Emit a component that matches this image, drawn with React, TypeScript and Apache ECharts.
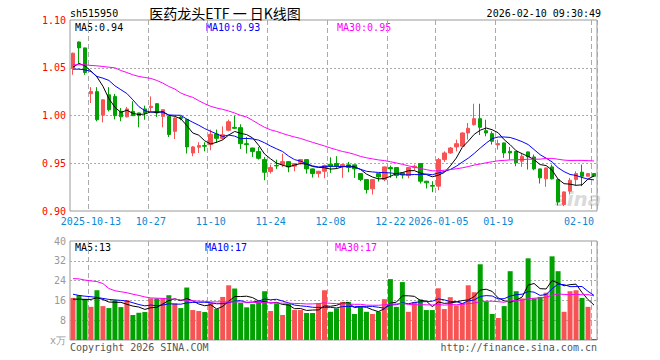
import { useEffect, useRef } from 'react';
import * as echarts from 'echarts';

const MONO = '"DejaVu Sans Mono", monospace';
const UP = '#f65454';
const DOWN = '#00a100';

const dates = [
  '2025-09-30', '2025-10-09', '2025-10-10',
  '2025-10-13', '2025-10-14', '2025-10-15', '2025-10-16', '2025-10-17',
  '2025-10-20', '2025-10-21', '2025-10-22', '2025-10-23', '2025-10-24',
  '2025-10-27', '2025-10-28', '2025-10-29', '2025-10-30', '2025-10-31',
  '2025-11-03', '2025-11-04', '2025-11-05', '2025-11-06', '2025-11-07',
  '2025-11-10', '2025-11-11', '2025-11-12', '2025-11-13', '2025-11-14',
  '2025-11-17', '2025-11-18', '2025-11-19', '2025-11-20', '2025-11-21',
  '2025-11-24', '2025-11-25', '2025-11-26', '2025-11-27', '2025-11-28',
  '2025-12-01', '2025-12-02', '2025-12-03', '2025-12-04', '2025-12-05',
  '2025-12-08', '2025-12-09', '2025-12-10', '2025-12-11', '2025-12-12',
  '2025-12-15', '2025-12-16', '2025-12-17', '2025-12-18', '2025-12-19',
  '2025-12-22', '2025-12-23', '2025-12-24', '2025-12-25', '2025-12-26',
  '2025-12-29', '2025-12-30', '2025-12-31',
  '2026-01-05', '2026-01-06', '2026-01-07', '2026-01-08', '2026-01-09',
  '2026-01-12', '2026-01-13', '2026-01-14', '2026-01-15', '2026-01-16',
  '2026-01-19', '2026-01-20', '2026-01-21', '2026-01-22', '2026-01-23',
  '2026-01-26', '2026-01-27', '2026-01-28', '2026-01-29', '2026-01-30',
  '2026-02-02', '2026-02-03', '2026-02-04', '2026-02-05', '2026-02-06',
  '2026-02-09', '2026-02-10',
];

const tickDates = ['2025-10-13', '2025-10-27', '2025-11-10', '2025-11-24', '2025-12-08', '2025-12-22', '2026-01-05', '2026-01-19', '2026-02-10'];
const tickTexts = ['2025-10-13', '10-27', '11-10', '11-24', '12-08', '12-22', '2026-01-05', '01-19', '02-10'];

const open = [
  1.0495, 1.0770, 1.0708, 1.0228, 1.0250, 1.0003, 1.0217, 1.0200, 1.0044, 0.9986,
  1.0044, 1.0027, 1.0069, 1.0082, 1.0124, 0.9991, 0.9991, 0.9834, 0.9984, 0.9960,
  0.9608, 0.9668, 0.9685, 0.9695, 0.9806, 0.9761, 0.9845, 0.9876, 0.9873, 0.9705,
  0.9660, 0.9622, 0.9538, 0.9413, 0.9476, 0.9486, 0.9517, 0.9469, 0.9510, 0.9538,
  0.9441, 0.9392, 0.9416, 0.9490, 0.9497, 0.9469, 0.9483, 0.9483, 0.9392, 0.9329,
  0.9232, 0.9392, 0.9329, 0.9455, 0.9455, 0.9399, 0.9371, 0.9455, 0.9497, 0.9312,
  0.9267, 0.9260, 0.9538, 0.9608, 0.9671, 0.9679, 0.9817, 0.9904, 0.9967, 0.9841,
  0.9810, 0.9692, 0.9713, 0.9625, 0.9625, 0.9521, 0.9619, 0.9566, 0.9441, 0.9337,
  0.9462, 0.9329, 0.9068, 0.9208, 0.9329, 0.9406, 0.9364, 0.9392,
];
const close = [
  1.0652, 1.0708, 1.0450, 1.0252, 0.9956, 1.0164, 1.0060, 0.9998, 0.9986, 1.0069,
  0.9998, 0.9998, 1.0027, 1.0096, 1.0027, 1.0061, 0.9800, 0.9973, 0.9970, 0.9671,
  0.9671, 0.9685, 0.9678, 0.9803, 0.9761, 0.9799, 0.9935, 0.9866, 0.9705, 0.9695,
  0.9622, 0.9552, 0.9406, 0.9455, 0.9472, 0.9517, 0.9462, 0.9497, 0.9538, 0.9441,
  0.9392, 0.9416, 0.9476, 0.9469, 0.9469, 0.9486, 0.9455, 0.9441, 0.9329, 0.9225,
  0.9329, 0.9357, 0.9462, 0.9441, 0.9371, 0.9378, 0.9455, 0.9469, 0.9312, 0.9295,
  0.9260, 0.9538, 0.9608, 0.9660, 0.9705, 0.9817, 0.9866, 0.9967, 0.9876, 0.9817,
  0.9730, 0.9706, 0.9608, 0.9608, 0.9504, 0.9573, 0.9566, 0.9441, 0.9347, 0.9451,
  0.9337, 0.9093, 0.9200, 0.9322, 0.9392, 0.9364, 0.9392, 0.9364,
];
const high = [
  1.0659, 1.0775, 1.0710, 1.0297, 1.0297, 1.0170, 1.0297, 1.0226, 1.0078, 1.0090,
  1.0149, 1.0030, 1.0103, 1.0200, 1.0124, 1.0068, 0.9994, 0.9980, 0.9994, 0.9965,
  0.9680, 0.9720, 0.9720, 0.9853, 0.9853, 0.9886, 0.9956, 0.9998, 0.9908, 0.9775,
  0.9662, 0.9671, 0.9566, 0.9486, 0.9538, 0.9601, 0.9520, 0.9500, 0.9545, 0.9540,
  0.9445, 0.9420, 0.9486, 0.9563, 0.9574, 0.9490, 0.9514, 0.9486, 0.9395, 0.9332,
  0.9332, 0.9395, 0.9465, 0.9476, 0.9458, 0.9402, 0.9458, 0.9486, 0.9500, 0.9315,
  0.9312, 0.9556, 0.9625, 0.9671, 0.9747, 0.9824, 0.9922, 1.0123, 1.0123, 0.9956,
  0.9834, 0.9747, 0.9716, 0.9671, 0.9628, 0.9608, 0.9622, 0.9591, 0.9444, 0.9454,
  0.9486, 0.9332, 0.9203, 0.9347, 0.9416, 0.9486, 0.9395, 0.9395,
];
const low = [
  1.0426, 1.0548, 1.0426, 1.0130, 0.9939, 0.9928, 1.0043, 0.9959, 0.9940, 0.9980,
  0.9994, 0.9876, 0.9956, 1.0044, 0.9985, 0.9876, 0.9775, 0.9754, 0.9950, 0.9602,
  0.9573, 0.9608, 0.9625, 0.9636, 0.9712, 0.9747, 0.9834, 0.9860, 0.9650, 0.9602,
  0.9566, 0.9538, 0.9322, 0.9392, 0.9441, 0.9462, 0.9406, 0.9416, 0.9486, 0.9392,
  0.9350, 0.9350, 0.9343, 0.9399, 0.9441, 0.9347, 0.9406, 0.9347, 0.9312, 0.9183,
  0.9173, 0.9308, 0.9312, 0.9347, 0.9343, 0.9340, 0.9343, 0.9427, 0.9288, 0.9236,
  0.9197, 0.9218, 0.9514, 0.9600, 0.9625, 0.9679, 0.9747, 0.9894, 0.9796, 0.9782,
  0.9696, 0.9643, 0.9556, 0.9538, 0.9469, 0.9462, 0.9434, 0.9427, 0.9288, 0.9253,
  0.9330, 0.9058, 0.9051, 0.9173, 0.9267, 0.9260, 0.9360, 0.9360,
];
const volume = [
  17.0, 18.1, 16.6, 13.4, 20.1, 13.7, 12.9, 16.1, 13.3, 16.1,
  10.1, 11.0, 11.3, 16.8, 16.8, 16.8, 18.1, 14.8, 12.9, 21.2,
  12.1, 11.7, 11.3, 15.0, 12.5, 17.4, 22.1, 20.8, 15.0, 13.2,
  14.5, 15.4, 19.7, 11.7, 14.8, 10.1, 14.5, 12.1, 12.1, 10.9,
  10.9, 14.8, 20.1, 11.4, 12.8, 15.4, 15.4, 10.5, 13.4, 11.4,
  10.5, 11.4, 16.5, 24.6, 13.4, 23.4, 11.4, 15.4, 16.4, 12.1,
  12.1, 20.9, 12.5, 17.3, 14.0, 15.0, 22.1, 19.3, 30.6, 15.6,
  10.5, 8.9, 13.7, 27.8, 19.7, 16.8, 33.0, 16.8, 17.4, 19.1,
  33.8, 27.8, 11.4, 19.7, 20.1, 17.0, 13.4, 0.4,
];

const ma5Lead = [1.0506, 1.0545, 1.0520, 1.0465];
const ma10Lead = [1.0485, 1.0485, 1.0478, 1.0461, 1.0409, 1.0391, 1.0367, 1.0311, 1.0270];
const ma30Lead = [
  1.0531, 1.0531, 1.0531, 1.0524, 1.0520, 1.0513, 1.0506, 1.0499, 1.0471, 1.0450,
  1.0426, 1.0409, 1.0398, 1.0388, 1.0367, 1.0339, 1.0304, 1.0277, 1.0235, 1.0210,
  1.0190, 1.0155, 1.0123, 1.0096, 1.0078, 1.0064, 1.0047, 1.0026, 1.0001,
];
const vma5Lead = [16.5, 16.5, 16.4, 16.4];
const vma10Lead = [18.5, 18.0, 17.7, 17.5, 17.2, 16.8, 16.4, 16.2, 16.0];
const vma30Lead = [
  24.8, 24.7, 24.2, 23.9, 23.6, 22.8, 20.8, 19.9, 19.5, 19.1,
  18.5, 18.0, 17.4, 17.0, 16.9, 16.8, 16.6, 16.5, 16.2, 16.0,
  15.8, 15.7, 15.6, 15.4, 15.4, 15.4, 15.4, 15.4, 15.4,
];

const priceLegend = ['MA5:0.94', 'MA10:0.93', 'MA30:0.95'];
const volLegend = ['MA5:13', 'MA10:17', 'MA30:17'];

function movingAverage(values: number[], n: number, lead: number[]) {
  return values.map((_, i) => {
    if (i < n - 1) return lead[i];
    let s = 0;
    for (let k = i - n + 1; k <= i; k++) s += values[k];
    return +(s / n).toFixed(4);
  });
}

export default function App() {
  const ref = useRef<HTMLDivElement>(null);
  useEffect(() => {
    const chart = echarts.init(ref.current!, undefined, { renderer: 'svg' });
    const tickIdx = new Set(tickDates.map((d) => dates.indexOf(d)));
    const labelMap: Record<string, string> = {};
    tickDates.forEach((d, k) => (labelMap[d] = tickTexts[k]));
    const up = (i: number) => close[i] >= open[i];

    const kData = dates.map((_, i) => [open[i], close[i], low[i], high[i]]);
    const volData = volume.map((v, i) => ({ value: v, itemStyle: { color: up(i) ? UP : DOWN } }));

    const vSplit = { show: true, interval: (i: number) => tickIdx.has(i), lineStyle: { color: '#aaa', type: [5, 3], width: 1 } };
    const hSplit = { show: true, showMinLine: false, showMaxLine: false, lineStyle: { color: '#aaa', type: [2, 2], width: 1 } };

    const txt = (x: number, y: number, text: string, fill: string, font: string, align = 'left', extra: any = {}) => ({
      type: 'text', x, y, silent: true, style: { text, fill, font, align, verticalAlign: 'middle', ...extra },
    });
    const f10 = `10px ${MONO}`;
    const line = (name: string, data: number[], color: string, xi: number) => ({
      type: 'line', name, data, xAxisIndex: xi, yAxisIndex: xi, showSymbol: false, symbol: 'none',
      lineStyle: { color, width: 1 }, z: 5, silent: true,
    });

    chart.setOption({
      animation: false,
      backgroundColor: '#fff',
      grid: [
        { left: 70, right: 63, top: 20, height: 191, show: true, borderColor: '#999', borderWidth: 1 },
        { left: 70, right: 63, top: 241, height: 99, show: true, borderColor: '#999', borderWidth: 1 },
      ],
      xAxis: [
        {
          type: 'category', gridIndex: 0, data: dates, boundaryGap: true,
          axisLine: { show: false }, axisTick: { show: false },
          axisLabel: {
            interval: (i: number) => tickIdx.has(i), formatter: (v: string) => labelMap[v] || '',
            color: '#0a88d6', fontFamily: MONO, fontSize: 10, margin: 5, alignMaxLabel: 'right',
          },
          splitLine: vSplit,
        },
        {
          type: 'category', gridIndex: 1, data: dates, boundaryGap: true,
          axisLine: { show: false }, axisTick: { show: false }, axisLabel: { show: false },
          splitLine: vSplit,
        },
      ],
      yAxis: [
        {
          type: 'value', gridIndex: 0, min: 0.9, max: 1.1, interval: 0.05,
          axisLine: { show: false }, axisTick: { show: false },
          axisLabel: { color: '#f00', fontFamily: MONO, fontSize: 10, margin: 4, formatter: (v: number) => v.toFixed(2) },
          splitLine: hSplit,
        },
        {
          type: 'value', gridIndex: 1, min: 0, max: 40, interval: 8,
          axisLine: { show: false }, axisTick: { show: false },
          axisLabel: { color: '#999', fontFamily: MONO, fontSize: 10, margin: 4, formatter: (v: number) => (v === 0 ? 'x万' : String(v)) },
          splitLine: hSplit,
        },
      ],
      series: [
        {
          type: 'candlestick', xAxisIndex: 0, yAxisIndex: 0, data: kData, barWidth: 4,
          itemStyle: { color: UP, color0: DOWN, borderColor: UP, borderColor0: DOWN, borderWidth: 1 },
          silent: true,
        },
        line('MA5', movingAverage(close, 5, ma5Lead), '#000', 0),
        line('MA10', movingAverage(close, 10, ma10Lead), '#0000ff', 0),
        line('MA30', movingAverage(close, 30, ma30Lead), '#ff00ff', 0),
        { type: 'bar', xAxisIndex: 1, yAxisIndex: 1, data: volData, barWidth: 5, silent: true },
        line('VMA5', movingAverage(volume, 5, vma5Lead), '#000', 1),
        line('VMA10', movingAverage(volume, 10, vma10Lead), '#0000ff', 1),
        line('VMA30', movingAverage(volume, 30, vma30Lead), '#ff00ff', 1),
      ],
      graphic: [
        txt(70, 13, 'sh515950', '#000', f10),
        txt(225, 13, '医药龙头ETF 一 日K线图', '#000', '14px "Noto Sans CJK SC"', 'center'),
        txt(601, 13, '2026-02-10 09:30:49', '#000', f10, 'right'),
        txt(75, 27, priceLegend[0], '#000', f10),
        txt(206, 27, priceLegend[1], '#0000ff', f10),
        txt(337, 27, priceLegend[2], '#ff00ff', f10),
        txt(75, 247, volLegend[0], '#000', f10),
        txt(205, 247, volLegend[1], '#0000ff', f10),
        txt(335, 247, volLegend[2], '#ff00ff', f10),
        txt(70, 347, 'Copyright 2026 SINA.COM', '#555', f10),
        txt(597, 347, 'http://finance.sina.com.cn', '#555', f10, 'right'),
        txt(578, 199, 'sina', '#bbb', 'italic bold 20px "DejaVu Sans"', 'center', { opacity: 0.55 }),
      ],
    });
    return () => chart.dispose();
  }, []);
  return <div ref={ref} style={{ position: 'fixed', left: 0, top: 0, width: 660, height: 360, background: '#fff' }} />;
}
